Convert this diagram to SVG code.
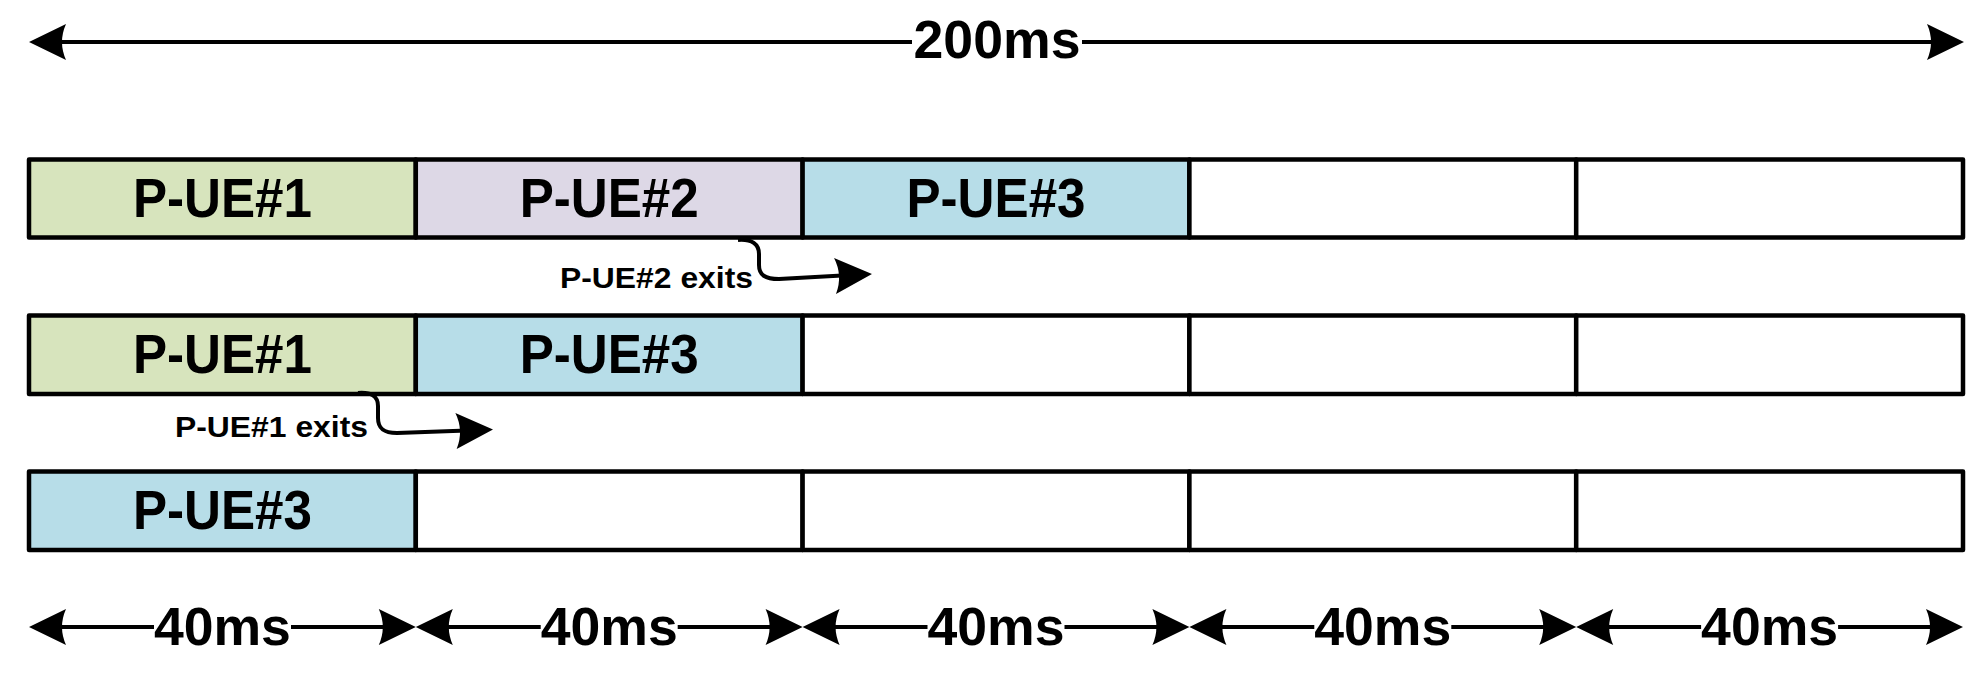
<svg xmlns="http://www.w3.org/2000/svg" width="1984" height="673" viewBox="0 0 1984 673">
<style>
.cell{stroke:#000;stroke-width:4.5;stroke-linejoin:round}
.g{fill:#D7E4BD}.p{fill:#DDD8E6}.b{fill:#B7DDE8}.w{fill:#FFFFFF}
.lbl{font-family:"Liberation Sans",Arial,sans-serif;font-weight:bold;font-size:56px;fill:#000;text-anchor:middle}
.dim{font-family:"Liberation Sans",Arial,sans-serif;font-weight:bold;font-size:53px;fill:#000;text-anchor:middle}
.ex{font-family:"Liberation Sans",Arial,sans-serif;font-weight:bold;font-size:30px;fill:#000}
.ln{stroke:#000;stroke-width:4;fill:none;marker-end:url(#ah)}
</style>
<defs>
<marker id="ah" markerUnits="userSpaceOnUse" markerWidth="60" markerHeight="60" refX="0" refY="0" orient="auto" overflow="visible">
<path d="M12,0 L-25,-18 Q-17,0 -25,18 Z" fill="#000"/>
</marker>
</defs>
<rect width="1984" height="673" fill="#FFFFFF"/>
<g id="row1">
<rect class="cell g" x="29" y="159.5" width="386.8" height="78"/>
<rect class="cell p" x="415.8" y="159.5" width="386.8" height="78"/>
<rect class="cell b" x="802.6" y="159.5" width="386.8" height="78"/>
<rect class="cell w" x="1189.4" y="159.5" width="386.8" height="78"/>
<rect class="cell w" x="1576.2" y="159.5" width="386.8" height="78"/>
<text class="lbl" x="222.4" y="217" textLength="179" lengthAdjust="spacingAndGlyphs">P-UE#1</text>
<text class="lbl" x="609.2" y="217" textLength="179" lengthAdjust="spacingAndGlyphs">P-UE#2</text>
<text class="lbl" x="996" y="217" textLength="179" lengthAdjust="spacingAndGlyphs">P-UE#3</text>
</g>
<g id="row2">
<rect class="cell g" x="29" y="315.5" width="386.8" height="78.5"/>
<rect class="cell b" x="415.8" y="315.5" width="386.8" height="78.5"/>
<rect class="cell w" x="802.6" y="315.5" width="386.8" height="78.5"/>
<rect class="cell w" x="1189.4" y="315.5" width="386.8" height="78.5"/>
<rect class="cell w" x="1576.2" y="315.5" width="386.8" height="78.5"/>
<text class="lbl" x="222.4" y="373" textLength="179" lengthAdjust="spacingAndGlyphs">P-UE#1</text>
<text class="lbl" x="609.2" y="373" textLength="179" lengthAdjust="spacingAndGlyphs">P-UE#3</text>
</g>
<g id="row3">
<rect class="cell b" x="29" y="471.5" width="386.8" height="78.5"/>
<rect class="cell w" x="415.8" y="471.5" width="386.8" height="78.5"/>
<rect class="cell w" x="802.6" y="471.5" width="386.8" height="78.5"/>
<rect class="cell w" x="1189.4" y="471.5" width="386.8" height="78.5"/>
<rect class="cell w" x="1576.2" y="471.5" width="386.8" height="78.5"/>
<text class="lbl" x="222.4" y="529" textLength="179" lengthAdjust="spacingAndGlyphs">P-UE#3</text>
</g>
<g id="exit-labels">
<text class="ex" x="560" y="288" textLength="193" lengthAdjust="spacingAndGlyphs">P-UE#2 exits</text>
<text class="ex" x="175" y="437" textLength="193" lengthAdjust="spacingAndGlyphs">P-UE#1 exits</text>
</g>
<g id="dimension-labels">
<text class="dim" x="997" y="58" textLength="167" lengthAdjust="spacingAndGlyphs">200ms</text>
<text class="dim" x="222.4" y="645" textLength="137" lengthAdjust="spacingAndGlyphs">40ms</text>
<text class="dim" x="609.2" y="645" textLength="137" lengthAdjust="spacingAndGlyphs">40ms</text>
<text class="dim" x="996" y="645" textLength="137" lengthAdjust="spacingAndGlyphs">40ms</text>
<text class="dim" x="1382.8" y="645" textLength="137" lengthAdjust="spacingAndGlyphs">40ms</text>
<text class="dim" x="1769.6" y="645" textLength="137" lengthAdjust="spacingAndGlyphs">40ms</text>
</g>
<g id="connectors">
<line class="ln" x1="912" y1="42" x2="41" y2="42"/>
<line class="ln" x1="1082" y1="42" x2="1952" y2="42"/>
<line class="ln" x1="154" y1="627" x2="41" y2="627"/>
<line class="ln" x1="291" y1="627" x2="403.8" y2="627"/>
<line class="ln" x1="540.7" y1="627" x2="427.8" y2="627"/>
<line class="ln" x1="677.7" y1="627" x2="790.6" y2="627"/>
<line class="ln" x1="927.5" y1="627" x2="814.6" y2="627"/>
<line class="ln" x1="1064.5" y1="627" x2="1177.4" y2="627"/>
<line class="ln" x1="1314.3" y1="627" x2="1201.4" y2="627"/>
<line class="ln" x1="1451.3" y1="627" x2="1564.2" y2="627"/>
<line class="ln" x1="1701.1" y1="627" x2="1588.2" y2="627"/>
<line class="ln" x1="1838.1" y1="627" x2="1951" y2="627"/>
<path class="ln" d="M738,240 C752,239 759,244 759,254 L759,265 C759,275 765,279 779,279 L860,274.6"/>
<path class="ln" d="M358,393 C371,392 378,396 378,406 L378,418 C378,428 383,433 397,433 L481,430"/>
</g>
</svg>
